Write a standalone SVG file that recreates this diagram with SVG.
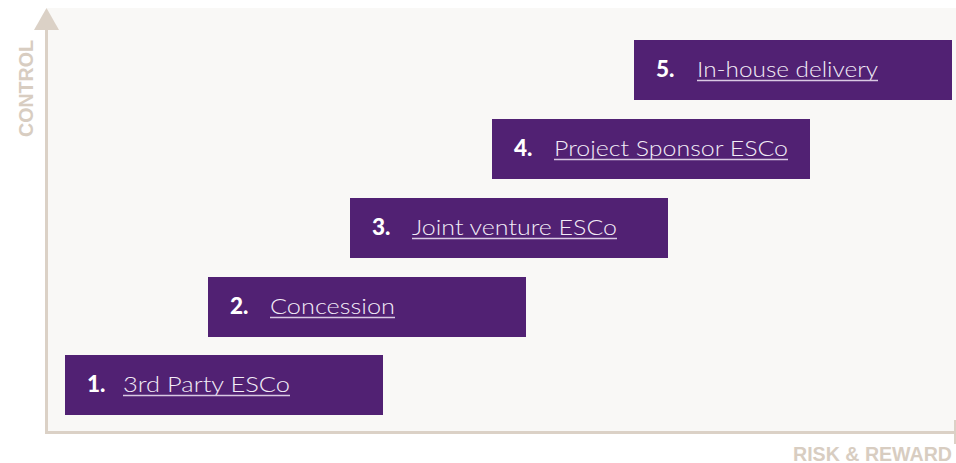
<svg xmlns="http://www.w3.org/2000/svg" width="956" height="463" viewBox="0 0 956 463">
<style>
.box{fill:#512173}
.num{font-family:"Lato","Liberation Sans",sans-serif;font-weight:900;font-size:22.5px;fill:#ffffff}
.lbl{font-family:"Lato","Liberation Sans",sans-serif;font-weight:300;font-size:21.5px;fill:#f3edf7}
.ul{stroke:#d9c9e3;stroke-width:1.6}
.ax{stroke:#dbd1c6;stroke-width:3;fill:none}
.axt{font-family:"Liberation Sans","Arial",sans-serif;font-weight:700;font-size:20px;fill:#d8cdc1}
</style>
<rect x="0" y="0" width="956" height="463" fill="#ffffff"/>
<rect x="47" y="8" width="909" height="424" fill="#f9f8f6"/>
<g id="axes">
<line class="ax" x1="46.5" y1="28" x2="46.5" y2="434"/>
<polygon points="46.5,8 34,30 59,30" fill="#dbd1c6"/>
<line class="ax" x1="45" y1="432.5" x2="956" y2="432.5"/>
<line x1="955" y1="420" x2="955" y2="444" stroke="#dbd1c6" stroke-width="2"/>
<text class="axt" transform="translate(33,137) rotate(-90)" textLength="97" lengthAdjust="spacingAndGlyphs">CONTROL</text>
<text class="axt" x="793" y="460.5" textLength="159" lengthAdjust="spacingAndGlyphs">RISK &amp; REWARD</text>
</g>
<g id="node1">
<rect class="box" x="65" y="355" width="318" height="60"/>
<text class="num" x="87" y="392">1.</text>
<text class="lbl" x="123" y="392" textLength="167" lengthAdjust="spacingAndGlyphs">3rd Party ESCo</text>
<line class="ul" x1="123" y1="395.5" x2="290" y2="395.5"/>
</g>
<g id="node2">
<rect class="box" x="208" y="277" width="318" height="60"/>
<text class="num" x="230" y="314">2.</text>
<text class="lbl" x="270" y="314" textLength="125" lengthAdjust="spacingAndGlyphs">Concession</text>
<line class="ul" x1="270" y1="317.5" x2="395" y2="317.5"/>
</g>
<g id="node3">
<rect class="box" x="350" y="198" width="318" height="60"/>
<text class="num" x="372" y="235">3.</text>
<text class="lbl" x="412" y="235" textLength="205" lengthAdjust="spacingAndGlyphs">Joint venture ESCo</text>
<line class="ul" x1="412" y1="238.5" x2="617" y2="238.5"/>
</g>
<g id="node4">
<rect class="box" x="492" y="119" width="318" height="60"/>
<text class="num" x="514" y="156">4.</text>
<text class="lbl" x="554" y="156" textLength="234" lengthAdjust="spacingAndGlyphs">Project Sponsor ESCo</text>
<line class="ul" x1="554" y1="159.5" x2="788" y2="159.5"/>
</g>
<g id="node5">
<rect class="box" x="634" y="40" width="318" height="60"/>
<text class="num" x="656" y="77">5.</text>
<text class="lbl" x="697" y="77" textLength="181" lengthAdjust="spacingAndGlyphs">In-house delivery</text>
<line class="ul" x1="697" y1="80.5" x2="878" y2="80.5"/>
</g>
</svg>
